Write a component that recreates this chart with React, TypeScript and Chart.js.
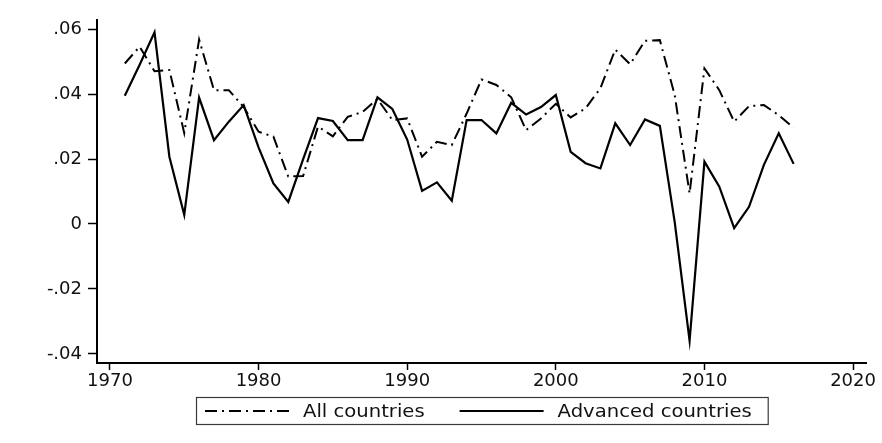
import React, { useEffect, useRef } from "react";
import { Chart, registerables } from "chart.js";

Chart.register(...registerables);

// ---- data ----
const years = [
  1971, 1972, 1973, 1974, 1975, 1976, 1977, 1978, 1979, 1980,
  1981, 1982, 1983, 1984, 1985, 1986, 1987, 1988, 1989, 1990,
  1991, 1992, 1993, 1994, 1995, 1996, 1997, 1998, 1999, 2000,
  2001, 2002, 2003, 2004, 2005, 2006, 2007, 2008, 2009, 2010,
  2011, 2012, 2013, 2014, 2015, 2016,
];

const allCountries = [
  0.0494, 0.0546, 0.047, 0.0474, 0.028, 0.0568, 0.0412, 0.0412, 0.036, 0.0284,
  0.0269, 0.0146, 0.0148, 0.030, 0.027, 0.033, 0.0345, 0.0385, 0.032, 0.0325,
  0.0207, 0.0253, 0.0243, 0.034, 0.0445, 0.0428, 0.039, 0.0289, 0.0325, 0.037,
  0.0328, 0.0356, 0.0418, 0.0537, 0.0492, 0.0564, 0.0566, 0.0397, 0.0094, 0.0479,
  0.0412, 0.0315, 0.0363, 0.0366, 0.0335, 0.0296,
];

const advancedCountries = [
  0.0395, 0.049, 0.059, 0.0207, 0.0028, 0.0389, 0.0258, 0.0315, 0.0366, 0.0236,
  0.0125, 0.0068, 0.020, 0.0326, 0.0317, 0.0258, 0.0258, 0.039, 0.0354, 0.026,
  0.0102, 0.0128, 0.0072, 0.032, 0.032, 0.0279, 0.0373, 0.0337, 0.036, 0.0397,
  0.0222, 0.0187, 0.0171, 0.031, 0.0243, 0.0322, 0.0302, 0.0006, -0.0359, 0.0192,
  0.0115, -0.0013, 0.0053, 0.0182, 0.0279, 0.0185,
];

const seriesLabels = ["All countries", "Advanced countries"];
const xTickValues = [1970, 1980, 1990, 2000, 2010, 2020];
const yTickValues = [-0.04, -0.02, 0, 0.02, 0.04, 0.06];
const yTickLabels = ["-.04", "-.02", "0", ".02", ".04", ".06"];

const FONT_FAMILY = "'DejaVu Sans', 'Liberation Sans', sans-serif";
const TEXT_COLOR = "#111";

// Legend drawn as a boxed row under the axis (Stata style)
const boxLegend = {
  id: "boxLegend",
  afterDraw(chart: any) {
    const { ctx, chartArea } = chart;
    const sx = 1.12;
    const sample = 84;
    const gapText = 14;
    const gapItem = 35;
    const padL = 9;
    const padR = 16;
    ctx.save();
    ctx.font = `17.5px ${FONT_FAMILY}`;
    const items = chart.data.datasets.map((ds: any) => ({
      label: ds.label,
      dash: ds.borderDash || [],
      lw: ds.borderWidth,
      color: ds.borderColor,
      tw: ctx.measureText(ds.label).width * sx,
    }));
    let content = 0;
    items.forEach((it: any, i: number) => {
      content += sample + gapText + it.tw + (i > 0 ? gapItem : 0);
    });
    const boxW = content + padL + padR;
    const cx = (chartArea.left + chartArea.right) / 2;
    const left = Math.round(cx - boxW / 2);
    const top = chartArea.bottom + 34;
    const boxH = 27;
    ctx.strokeStyle = "#3a3a3a";
    ctx.lineWidth = 1.2;
    ctx.setLineDash([]);
    ctx.strokeRect(left + 0.5, top + 0.5, boxW, boxH);
    const cy = top + 14;
    let x = left + padL;
    items.forEach((it: any) => {
      ctx.beginPath();
      ctx.setLineDash(it.dash);
      ctx.lineWidth = it.lw;
      ctx.strokeStyle = it.color;
      ctx.moveTo(x, cy);
      ctx.lineTo(x + sample, cy);
      ctx.stroke();
      ctx.setLineDash([]);
      x += sample + gapText;
      ctx.save();
      ctx.translate(x, cy);
      ctx.scale(sx, 1);
      ctx.fillStyle = TEXT_COLOR;
      ctx.textBaseline = "middle";
      ctx.textAlign = "left";
      ctx.fillText(it.label, 0, 1);
      ctx.restore();
      x += it.tw + gapItem;
    });
    ctx.restore();
  },
};

export default function App() {
  const canvasRef = useRef<HTMLCanvasElement | null>(null);

  useEffect(() => {
    if (!canvasRef.current) return;
    const chart = new Chart(canvasRef.current, {
      type: "line",
      data: {
        datasets: [
          {
            label: seriesLabels[0],
            data: years.map((yr, i) => ({ x: yr, y: allCountries[i] })),
            borderColor: "#000",
            borderWidth: 2,
            borderDash: [12, 5, 2, 5],
            pointRadius: 0,
            fill: false,
            tension: 0,
          },
          {
            label: seriesLabels[1],
            data: years.map((yr, i) => ({ x: yr, y: advancedCountries[i] })),
            borderColor: "#000",
            borderWidth: 2.2,
            pointRadius: 0,
            fill: false,
            tension: 0,
          },
        ],
      },
      options: {
        animation: false,
        responsive: false,
        maintainAspectRatio: false,
        devicePixelRatio: 1,
        layout: { padding: { top: 20, right: 16, left: 0, bottom: 0 } },
        plugins: {
          legend: { display: false },
          tooltip: { enabled: false },
        },
        scales: {
          x: {
            type: "linear",
            min: 1969.13,
            max: 2020.87,
            afterBuildTicks: (s: any) => {
              s.ticks = xTickValues.map((v) => ({ value: v }));
            },
            afterFit: (s: any) => {
              s.height = 80;
            },
            border: { display: true, color: "#000", width: 2 },
            grid: {
              drawOnChartArea: false,
              drawTicks: true,
              tickLength: 7,
              tickColor: "#000",
              tickWidth: 1.5,
            },
            ticks: {
              autoSkip: false,
              maxRotation: 0,
              padding: 1,
              color: TEXT_COLOR,
              font: { family: FONT_FAMILY, size: 18 },
              callback: (v: any) => String(v),
            },
          },
          y: {
            type: "linear",
            min: -0.0428,
            max: 0.0628,
            afterBuildTicks: (s: any) => {
              s.ticks = yTickValues.map((v) => ({ value: v }));
            },
            afterFit: (s: any) => {
              s.width = 97;
            },
            border: { display: true, color: "#000", width: 2 },
            grid: {
              drawOnChartArea: false,
              drawTicks: true,
              tickLength: 9,
              tickColor: "#000",
              tickWidth: 1.5,
            },
            ticks: {
              padding: 6,
              color: TEXT_COLOR,
              font: { family: FONT_FAMILY, size: 18 },
              callback: (v: any) => {
                const idx = yTickValues.findIndex((t) => Math.abs(t - v) < 1e-9);
                return idx >= 0 ? yTickLabels[idx] : "";
              },
            },
          },
        },
      },
      plugins: [boxLegend],
    });
    return () => chart.destroy();
  }, []);

  return (
    <div
      style={{
        position: "fixed",
        left: 0,
        top: 0,
        width: 882,
        height: 443,
        background: "#fff",
      }}
    >
      <canvas ref={canvasRef} width={882} height={443} />
    </div>
  );
}
